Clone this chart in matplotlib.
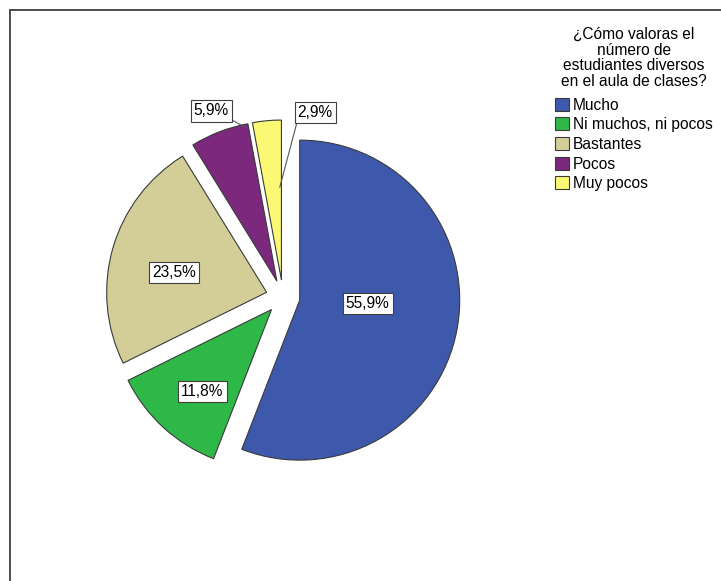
import numpy as np
import matplotlib
matplotlib.use("Agg")
import matplotlib.pyplot as plt
from matplotlib.lines import Line2D
from matplotlib.patches import Rectangle

plt.rcParams['font.family'] = ['Liberation Sans', 'DejaVu Sans']

categories = ['Mucho', 'Ni muchos, ni pocos', 'Bastantes', 'Pocos', 'Muy pocos']
percents = [55.9, 11.8, 23.5, 5.9, 2.9]
colors = ['#3E58AC', '#2EB848', '#D3CE97', '#7C287D', '#FBF873']
legend_title = '¿Cómo valoras el\nnúmero de\nestudiantes diversos\nen el aula de clases?'

W, H = 721, 581
fig = plt.figure(figsize=(W / 100, H / 100), dpi=100)
ax = fig.add_axes([0, 0, 1, 1])

radius = 160
# explode is in data units here (radius is not 1)
wedges, _ = ax.pie(percents, colors=colors, startangle=90, counterclock=False,
                   explode=[17] * len(percents), center=(283, H - 297),
                   radius=radius,
                   wedgeprops=dict(edgecolor='#3a3a3a', linewidth=0.8))
ax.set_xlim(0, W)
ax.set_ylim(0, H)
ax.set_aspect('equal')
ax.axis('off')


def wedge_point(w, angle, r):
    a = np.deg2rad(angle)
    return (w.center[0] + r * w.r * np.cos(a), w.center[1] + r * w.r * np.sin(a))


box = dict(boxstyle='square,pad=0.2', facecolor='white', edgecolor='#404040', linewidth=0.8)

# (radius fraction, angle shift from wedge middle) for each label
label_pos = [(0.425, 8.0), (0.67, 2.3), (0.59, 3.7), (1.14, 0.0), (1.07, -16.6)]
# leader lines for the small slices: (fraction along wedge angle, radius fraction, box corner)
leaders = {3: (0.05, 0.98, (1, 0)), 4: (0.1, 0.58, (0, 0))}

for i, (w, p) in enumerate(zip(wedges, percents)):
    mid = (w.theta1 + w.theta2) / 2
    fr, shift = label_pos[i]
    xt = wedge_point(w, mid + shift, fr)
    txt = f'{p:.1f}%'.replace('.', ',')
    if i in leaders:
        t, rr, corner = leaders[i]
        xy = wedge_point(w, w.theta1 + t * (w.theta2 - w.theta1), rr)
        ax.annotate(txt, xy=xy, xytext=xt, ha='center', va='center', fontsize=11.2,
                    bbox=box,
                    arrowprops=dict(arrowstyle='-', color='#555555', lw=0.8,
                                    relpos=corner, shrinkA=0, shrinkB=0))
    else:
        ax.text(*xt, txt, ha='center', va='center', fontsize=11.2, bbox=box)

handles = [Rectangle((0, 0), 1, 1, facecolor=c, edgecolor='#3a3a3a', linewidth=0.8)
           for c in colors]
leg = fig.legend(handles, categories, title=legend_title, loc='upper center',
                 bbox_to_anchor=(634 / W, 1 - 27 / H), frameon=False,
                 fontsize=11.2, title_fontsize=11.2, alignment='center',
                 handlelength=0.9, handleheight=0.9, handletextpad=0.25,
                 labelspacing=0.3, borderpad=0, borderaxespad=0)
leg.get_title().set_linespacing(1.05)
leg.get_title().set_multialignment('center')
leg._legend_box.sep += 3

# chart frame on the top and left edges
fig.add_artist(Line2D([10 / W, 1], [1 - 10 / H, 1 - 10 / H], color='#4d4d4d', lw=1.4))
fig.add_artist(Line2D([10 / W, 10 / W], [0, 1 - 10 / H], color='#4d4d4d', lw=1.4))

fig.savefig('out.png', dpi=100, facecolor='white')
